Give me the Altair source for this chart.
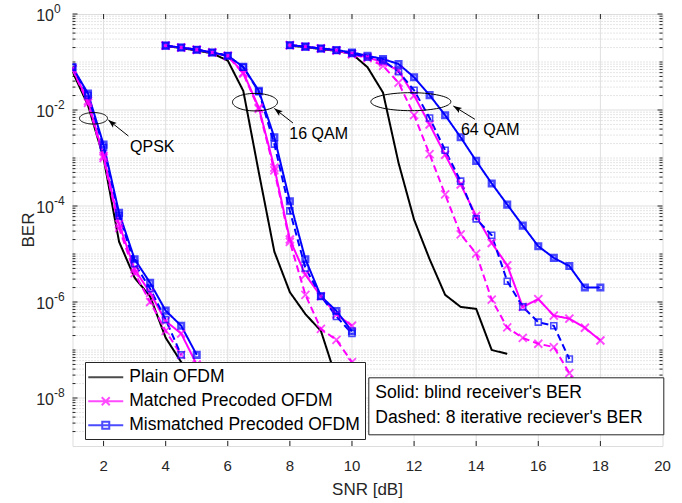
import math
import altair as alt
import pandas as pd

FONT = "Liberation Sans"
INK = "#262626"

# ---------------- data ----------------
snr_qpsk = [1.0, 1.5, 2.0, 2.5, 3.0, 3.5, 4.0, 4.5, 5.0]
qpsk_plain = [6.3e-2, 1.25e-2, 1.0e-3, 1.8e-5, 3.2e-6, 1.3e-6, 1.8e-7, 5.6e-8, 1.6e-8]
qpsk_matched_blind = [7.1e-2, 1.55e-2, 1.1e-3, 4.2e-5, 4.8e-6, 1.55e-6, 4.0e-7, 2.2e-7, 5.0e-8]
qpsk_matched_iter = [7.1e-2, 1.4e-2, 1.0e-3, 3.5e-5, 4.0e-6, 1.0e-6, 2.5e-7, 7.9e-8]
qpsk_mismatched_blind = [7.8e-2, 2.2e-2, 1.9e-3, 7.2e-5, 7.8e-6, 2.5e-6, 6.6e-7, 3.2e-7, 7.9e-8]
qpsk_mismatched_iter = [7.8e-2, 2.0e-2, 1.66e-3, 6.3e-5, 6.3e-6, 1.9e-6, 4.3e-7, 7.9e-8]

snr_16qam = [4.0, 4.5, 5.0, 5.5, 6.0, 6.5, 7.0, 7.5, 8.0, 8.5, 9.0, 9.5, 10.0]
qam16_plain = [0.214, 0.195, 0.174, 0.151, 0.107, 2.5e-2, 5.0e-4, 1.12e-5, 1.6e-6, 5.6e-7, 2.5e-7, 2.5e-8, 5.0e-9]
qam16_matched_blind = [0.219, 0.2, 0.18, 0.158, 0.135, 6.0e-2, 1.12e-2, 6.3e-4, 2.0e-5, 3.7e-6, 1.32e-6, 5.5e-7, 3.2e-7]
qam16_matched_iter = [0.219, 0.2, 0.18, 0.158, 0.132, 5.75e-2, 1.05e-2, 5.5e-4, 1.78e-5, 1.41e-6, 2.75e-7, 1.62e-7, 5.6e-8]
qam16_mismatched_blind = [0.219, 0.2, 0.18, 0.158, 0.135, 7.9e-2, 2.5e-2, 2.7e-3, 1.26e-4, 7.8e-6, 1.32e-6, 6.5e-7, 2.45e-7]
qam16_mismatched_iter = [0.219, 0.2, 0.18, 0.158, 0.135, 7.8e-2, 2.4e-2, 1.95e-3, 7.9e-5, 5.1e-6, 1.32e-6, 5.0e-7, 2.2e-7]

snr_64qam = [8.0, 8.5, 9.0, 9.5, 10.0, 10.5, 11.0, 11.5, 12.0, 12.5, 13.0,
             13.5, 14.0, 14.5, 15.0, 15.5, 16.0, 16.5, 17.0, 17.5, 18.0]
qam64_plain = [0.219, 0.204, 0.186, 0.17, 0.148, 7.8e-2, 2.3e-2, 7.9e-4, 5.2e-5, 7.8e-6,
               1.41e-6, 7.9e-7, 7.2e-7, 1.0e-7, 8.3e-8]
qam64_matched_blind = [0.224, 0.209, 0.191, 0.174, 0.148, 0.126, 9.8e-2, 6.6e-2, 2.0e-2, 5.0e-3,
                       1.17e-3, 2.8e-4, 6.2e-5, 1.7e-5, 5.8e-6, 7.9e-7, 1.15e-6, 5.2e-7, 4.5e-7,
                       2.9e-7, 1.58e-7]
qam64_matched_iter = [0.224, 0.209, 0.191, 0.174, 0.145, 0.12, 8.3e-2, 3.7e-2, 7.8e-3, 1.2e-3,
                      1.74e-4, 2.57e-5, 1.02e-5, 1.12e-6, 2.95e-7, 1.78e-7, 1.35e-7, 1.15e-7,
                      3.3e-8, 7.9e-9]
qam64_mismatched_blind = [0.224, 0.209, 0.191, 0.178, 0.158, 0.135, 0.115, 9.1e-2, 4.8e-2, 2.04e-2,
                          7.8e-3, 2.7e-3, 8.7e-4, 2.95e-4, 1.07e-4, 3.9e-5, 1.45e-5, 8.3e-6, 5.6e-6,
                          2.0e-6, 2.0e-6]
qam64_mismatched_iter = [0.224, 0.209, 0.191, 0.174, 0.151, 0.126, 0.107, 6.3e-2, 2.57e-2, 6.8e-3,
                         1.45e-3, 3.3e-4, 5.4e-5, 2.45e-5, 2.7e-6, 7.9e-7, 3.8e-7, 3.2e-7, 6.5e-8]

series_names = ["Plain OFDM", "Matched Precoded OFDM", "Mismatched Precoded OFDM"]
series_colors = ["#000000", "#ff00ff", "#0000ff"]
style_names = ["solid", "dashed"]
style_labels = ["Solid: blind receiver's BER", "Dashed: 8 iterative reciever's BER"]

# annotations
ann_labels = ["QPSK", "16 QAM", "64 QAM"]
ann_ellipse_snr = [1.676, 6.877, 11.896]
ann_ellipse_ber = [6.71e-3, 1.456e-2, 1.49e-2]
ann_tail_snr = [2.80, 8.10, 13.96]
ann_tail_ber = [2.87e-3, 5.36e-3, 6.4e-3]
ann_head_snr = [2.153, 7.499, 13.264]
ann_head_ber = [6.19e-3, 1.08e-2, 1.21e-2]
ann_text_snr = [2.852, 7.982, 13.51]
ann_text_ber = [1.69e-3, 3.12e-3, 3.83e-3]

x_tick_values = [2, 4, 6, 8, 10, 12, 14, 16, 18, 20]
y_major_exponents = [0, -2, -4, -6, -8]
x_title = "SNR [dB]"
y_title = "BER"

# ---------------- build tables ----------------
curves = [
    ("QPSK", "Plain OFDM", "solid", snr_qpsk, qpsk_plain),
    ("QPSK", "Matched Precoded OFDM", "solid", snr_qpsk, qpsk_matched_blind),
    ("QPSK", "Matched Precoded OFDM", "dashed", snr_qpsk, qpsk_matched_iter),
    ("QPSK", "Mismatched Precoded OFDM", "solid", snr_qpsk, qpsk_mismatched_blind),
    ("QPSK", "Mismatched Precoded OFDM", "dashed", snr_qpsk, qpsk_mismatched_iter),
    ("16QAM", "Plain OFDM", "solid", snr_16qam, qam16_plain),
    ("16QAM", "Matched Precoded OFDM", "solid", snr_16qam, qam16_matched_blind),
    ("16QAM", "Matched Precoded OFDM", "dashed", snr_16qam, qam16_matched_iter),
    ("16QAM", "Mismatched Precoded OFDM", "solid", snr_16qam, qam16_mismatched_blind),
    ("16QAM", "Mismatched Precoded OFDM", "dashed", snr_16qam, qam16_mismatched_iter),
    ("64QAM", "Plain OFDM", "solid", snr_64qam, qam64_plain),
    ("64QAM", "Matched Precoded OFDM", "solid", snr_64qam, qam64_matched_blind),
    ("64QAM", "Matched Precoded OFDM", "dashed", snr_64qam, qam64_matched_iter),
    ("64QAM", "Mismatched Precoded OFDM", "solid", snr_64qam, qam64_mismatched_blind),
    ("64QAM", "Mismatched Precoded OFDM", "dashed", snr_64qam, qam64_mismatched_iter),
]
color_of = dict(zip(series_names, series_colors))
rows = []
for mod, ser, sty, xs, ys in curves:
    for x, y in zip(xs, ys):
        rows.append({"snr": x, "ber": y, "series": ser, "style": sty,
                     "curve": f"{mod}|{ser}|{sty}", "hex": color_of[ser]})
df = pd.DataFrame(rows)

ann = pd.DataFrame({
    "label": ann_labels,
    "ex": ann_ellipse_snr, "ey": ann_ellipse_ber,
    "tx": ann_tail_snr, "ty": ann_tail_ber,
    "hx": ann_head_snr, "hy": ann_head_ber,
    "lx": ann_text_snr, "ly": ann_text_ber,
})

# ---------------- scales ----------------
W, H = 590, 432
x_scale = alt.Scale(domain=[1, 20], nice=False, zero=False)
y_scale = alt.Scale(type="log", domain=[1e-9, 1], nice=False)

major_y = [10.0 ** e for e in y_major_exponents]
minor_y = []
for k in range(1, 10):
    for m in range(1, 10):
        if m == 1 and (k % 2 == 0 or k == 9):
            continue
        minor_y.append(m * 10.0 ** (-k))
grid_major_y = pd.DataFrame({"v": major_y[1:]})
grid_minor_y = pd.DataFrame({"v": minor_y})
grid_x = pd.DataFrame({"v": x_tick_values[:-1]})
ticks_major_y = pd.DataFrame({"v": major_y})
ticks_minor_y = pd.DataFrame({"v": minor_y})


def ylayer(d):
    return alt.Chart(d).encode(y=alt.Y("v:Q", scale=y_scale, axis=None))


def xlayer(d):
    return alt.Chart(d).encode(x=alt.X("v:Q", scale=x_scale, axis=None))


layers = []
# grid
layers.append(ylayer(grid_minor_y).mark_rule(color="#cccccc", strokeWidth=1, strokeDash=[1, 2]))
layers.append(ylayer(grid_major_y).mark_rule(color="#dfdfdf", strokeWidth=1))
layers.append(xlayer(grid_x).mark_rule(color="#dfdfdf", strokeWidth=1))
# inner ticks on all four sides
layers.append(ylayer(ticks_major_y).mark_rule(color=INK, strokeWidth=1).encode(x=alt.value(0), x2=alt.value(5)))
layers.append(ylayer(ticks_major_y).mark_rule(color=INK, strokeWidth=1).encode(x=alt.value(W), x2=alt.value(W - 5)))
layers.append(ylayer(ticks_minor_y).mark_rule(color=INK, strokeWidth=1).encode(x=alt.value(0), x2=alt.value(3)))
layers.append(ylayer(ticks_minor_y).mark_rule(color=INK, strokeWidth=1).encode(x=alt.value(W), x2=alt.value(W - 3)))
layers.append(xlayer(grid_x).mark_rule(color=INK, strokeWidth=1).encode(y=alt.value(H), y2=alt.value(H - 5)))
layers.append(xlayer(grid_x).mark_rule(color=INK, strokeWidth=1).encode(y=alt.value(0), y2=alt.value(5)))

# y tick labels 10^e
ylab = pd.DataFrame({"v": major_y, "e": [str(e) for e in y_major_exponents]})
layers.append(ylayer(ylab).mark_text(align="right", baseline="middle", fontSize=16, dy=2,
                                     color=INK, font=FONT).encode(x=alt.value(-18.5), text=alt.value("10")))
layers.append(ylayer(ylab).mark_text(align="left", baseline="middle", fontSize=12, dy=-5,
                                     color=INK, font=FONT).encode(x=alt.value(-18.5), text="e:N"))
# x tick labels and axis titles
xlab = pd.DataFrame({"v": x_tick_values, "t": [str(v) for v in x_tick_values]})
layers.append(xlayer(xlab).mark_text(align="center", baseline="middle", fontSize=15, color=INK,
                                     font=FONT).encode(y=alt.value(H + 20), text="t:N"))
titles = pd.DataFrame({"t": [x_title, y_title]})
layers.append(alt.Chart(titles.iloc[[0]]).mark_text(align="center", baseline="middle", fontSize=17,
                                                    color=INK, font=FONT).encode(
    x=alt.value(W / 2), y=alt.value(H + 44), text="t:N"))
layers.append(alt.Chart(titles.iloc[[1]]).mark_text(align="center", baseline="middle", fontSize=17,
                                                    color=INK, font=FONT, angle=270).encode(
    x=alt.value(-44), y=alt.value(H / 2), text="t:N"))

# curves
label_expr = ("datum.label == 'solid' ? \"" + style_labels[0] + "\" : \"" + style_labels[1] + "\"")
SYM_OFF = 263
lines = alt.Chart(df).mark_line(strokeWidth=2, clip=True).encode(
    x=alt.X("snr:Q", scale=x_scale, axis=None),
    y=alt.Y("ber:Q", scale=y_scale, axis=None),
    color=alt.Color("hex:N", scale=None),
    strokeDash=alt.StrokeDash("style:N",
                              scale=alt.Scale(domain=style_names, range=[[1, 0], [7, 4]]),
                              legend=alt.Legend(orient="none", legendX=295.8, legendY=363.3, title=None,
                                                strokeColor=INK, fillColor="white", padding=7,
                                                labelFont=FONT, labelFontSize=17.6, labelColor="black",
                                                labelExpr=label_expr, symbolSize=310,
                                                symbolType="circle", symbolStrokeWidth=0,
                                                symbolOpacity=0, symbolOffset=SYM_OFF,
                                                labelOffset={"expr": str(-(SYM_OFF + 18))},
                                                rowPadding=6.4, labelLimit=500)),
    detail="curve:N",
    order="snr:Q",
)
layers.append(lines)

X_PATH = "M-1,-1L1,1M-1,1L1,-1"
mism = df[df.series == "Mismatched Precoded OFDM"]
matc = df[df.series == "Matched Precoded OFDM"]


def pts(d, **kw):
    return alt.Chart(d).mark_point(filled=False, clip=True, **kw).encode(
        x=alt.X("snr:Q", scale=x_scale, axis=None),
        y=alt.Y("ber:Q", scale=y_scale, axis=None),
        color=alt.Color("hex:N", scale=None),
    )


layers.append(pts(matc[matc["style"] == "dashed"], shape=X_PATH, size=64, strokeWidth=1.8))
layers.append(pts(matc[matc["style"] == "solid"], shape=X_PATH, size=64, strokeWidth=2))
layers.append(pts(mism[mism["style"] == "dashed"], shape="square", size=36, strokeWidth=1.6))
layers.append(pts(mism[mism["style"] == "solid"], shape="square", size=30, strokeWidth=2.6))


# annotations
def ellipse_path(aspect, n=72):
    p = []
    for i in range(n):
        t = 2 * math.pi * i / n
        p.append(f"{math.cos(t):.4f},{aspect * math.sin(t):.4f}")
    return "M" + "L".join(p) + "Z"


ellipse_dims = [(28, 11.5), (45, 17.5), (80, 18)]
arrow_angles = [309, 308, 301.5]
ARROW_PATH = "M0,0L0.7,2L0,1.55L-0.7,2Z"
for i, (w, h) in enumerate(ellipse_dims):
    one = ann.iloc[[i]]
    layers.append(alt.Chart(one).mark_point(shape=ellipse_path(h / w), size=w * w, filled=False,
                                            color="black", strokeWidth=1, opacity=1).encode(
        x=alt.X("ex:Q", scale=x_scale, axis=None), y=alt.Y("ey:Q", scale=y_scale, axis=None)))
    layers.append(alt.Chart(one).mark_point(shape=ARROW_PATH, size=72, filled=True, color="black",
                                            angle=arrow_angles[i], opacity=1).encode(
        x=alt.X("hx:Q", scale=x_scale, axis=None), y=alt.Y("hy:Q", scale=y_scale, axis=None)))
layers.append(alt.Chart(ann).mark_rule(color="black", strokeWidth=1).encode(
    x=alt.X("tx:Q", scale=x_scale, axis=None), y=alt.Y("ty:Q", scale=y_scale, axis=None),
    x2="hx:Q", y2="hy:Q"))
layers.append(alt.Chart(ann).mark_text(align="left", baseline="middle", fontSize=16, font=FONT,
                                       color="black").encode(
    x=alt.X("lx:Q", scale=x_scale, axis=None), y=alt.Y("ly:Q", scale=y_scale, axis=None),
    text="label:N"))

# legend (series) built from an empty layer; symbol unit = 8.75 px
LINE = "M-1.371,0L2.629,0"
legend_paths = [
    LINE,
    LINE + "M0.172,-0.457L1.086,0.457M0.172,0.457L1.086,-0.457",
    LINE + "M0.229,-0.4L1.029,-0.4L1.029,0.4L0.229,0.4Z",
]
leg = alt.Legend(orient="none", legendX=12.5, legendY=348, title=None, strokeColor=INK,
                 fillColor="white", padding=5.25, labelFont=FONT, labelFontSize=17.5,
                 labelColor="black", symbolSize=306, symbolStrokeWidth=2, labelOffset=19,
                 rowPadding=5, labelLimit=500)
legend_layer = alt.Chart(pd.DataFrame({"series": series_names})).transform_filter("false").mark_point(
    filled=False, strokeWidth=2).encode(
    color=alt.Color("series:N", scale=alt.Scale(domain=series_names, range=series_colors), legend=leg),
    shape=alt.Shape("series:N", scale=alt.Scale(domain=series_names, range=legend_paths), legend=leg),
)
layers.append(legend_layer)

chart = alt.layer(*layers).properties(
    width=W, height=H,
    padding={"left": 72.5, "top": 14, "right": 19.5, "bottom": 57},
    autosize="none",
).configure_view(stroke=INK, strokeWidth=1).configure(font=FONT, background="white")

chart.save("out.html", embed_options={"renderer": "svg", "actions": False})
